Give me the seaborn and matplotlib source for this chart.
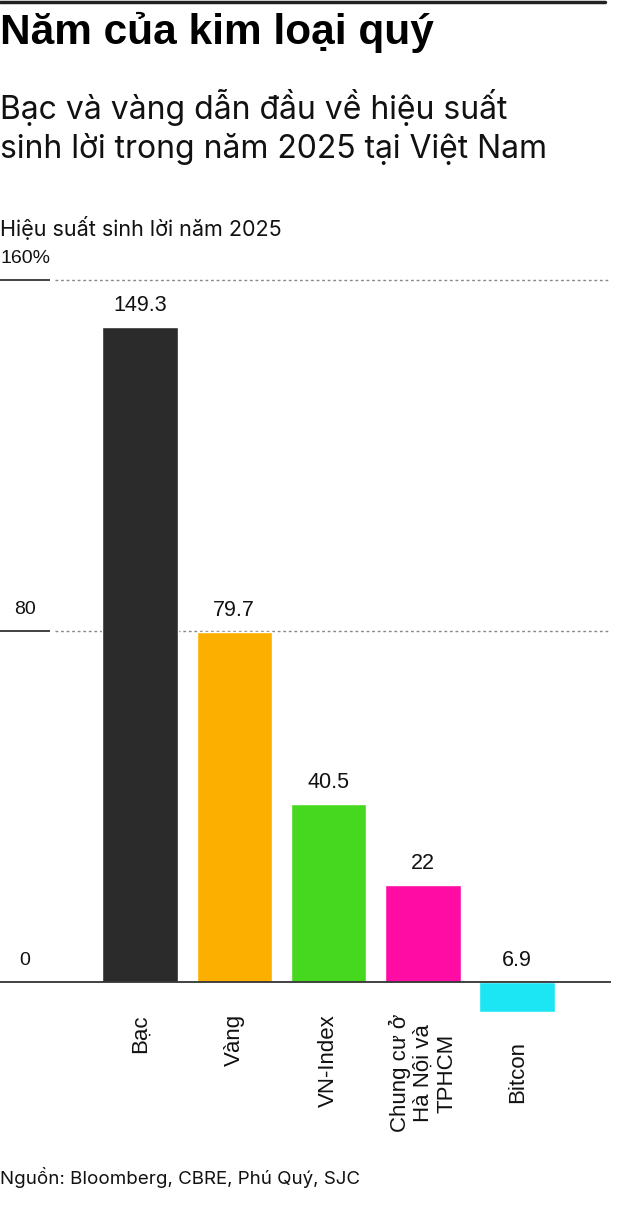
import matplotlib
matplotlib.use("Agg")
import matplotlib.pyplot as plt
import seaborn as sns
import pandas as pd

categories = ["Bạc", "Vàng", "VN-Index", "Chung cư ở\nHà Nội và\nTPHCM", "Bitcon"]
values = [149.3, 79.7, 40.5, 22.0, -6.9]
value_labels = ["149.3", "79.7", "40.5", "22", "6.9"]
colors = ["#2b2b2b", "#FDAF00", "#46D81E", "#FF0CA5", "#1CE6F3"]
yticks = [0, 80, 160]
ytick_labels = ["0", "80", "160%"]

title = "Năm của kim loại quý"
subtitle = "Bạc và vàng dẫn đầu về hiệu suất\nsinh lời trong năm 2025 tại Việt Nam"
axis_title = "Hiệu suất sinh lời năm 2025"
source = "Nguồn: Bloomberg, CBRE, Phú Quý, SJC"

sns.set_theme(style="white")
plt.rcParams["font.family"] = ["Liberation Sans", "DejaVu Sans"]
TXT = ["Inter", "DejaVu Sans"]

W, H = 617, 1207
fig = plt.figure(figsize=(W / 100, H / 100), dpi=100)

ymin, ymax = -10, 165
ppu = 4.3875
top_px = 982 - ymax * ppu
bot_px = 982 - ymin * ppu
ax = fig.add_axes([0, 1 - bot_px / H, 611 / W, (bot_px - top_px) / H])

df = pd.DataFrame({"cat": categories, "val": values})
sns.barplot(data=df, x="cat", y="val", hue="cat", palette=colors, width=0.8,
            legend=False, ax=ax, saturation=1)

sp = 94.3
ax.set_xlim(-140 / sp, (611 - 140) / sp)
ax.set_ylim(ymin, ymax)
for s in ax.spines.values():
    s.set_visible(False)
ax.set_xticks([])
ax.set_yticks([])
ax.set_xlabel("")
ax.set_ylabel("")

x_left = -140 / sp
x_tick_end = (50 - 140) / sp
x_grid_start = (55 - 140) / sp
x_right = (611 - 140) / sp
x_lab = (25 - 140) / sp

for v, lab in zip(yticks, ytick_labels):
    if v == 0:
        ax.hlines(0, x_left, x_right, color="#333333", lw=1.3, zorder=5)
    else:
        ax.hlines(v, x_left, x_tick_end, color="#222222", lw=1.2, zorder=3)
        ax.hlines(v, x_grid_start, x_right, color="#888888", lw=1.0,
                  linestyles=(0, (2, 2)), zorder=0)
    ax.text(x_lab, v + 3.0, lab, ha="center", va="bottom", fontsize=14,
            color="#111111")

for i, (v, lab) in enumerate(zip(values, value_labels)):
    y = max(v, 0) + 2.6
    ax.text(i, y, lab, ha="center", va="bottom", fontsize=15.5, color="#111111")
    ly = -7.3 if v >= 0 else v - 6.6
    ax.text(i, ly, categories[i], rotation=90, ha="center", va="top",
            multialignment="center", fontsize=16, color="#111111",
            linespacing=1.15)

fig.add_artist(plt.Line2D([0, 605 / W], [1 - 1.5 / H, 1 - 1.5 / H],
                          color="#222222", lw=2.5, transform=fig.transFigure))
fig.text(0, 1 - 32 / H, title, fontsize=30.5, fontweight="bold", va="center",
         ha="left", color="#000000")
fig.text(0, 1 - 127 / H, subtitle, fontsize=23, va="center", ha="left",
         color="#111111", linespacing=1.3, family=TXT)
fig.text(0, 1 - 228 / H, axis_title, fontsize=15.5, va="center", ha="left",
         color="#111111", family=TXT)
fig.text(0, 1 - 1177 / H, source, fontsize=13.5, va="center", ha="left",
         color="#111111", family=TXT)

fig.savefig("out.png", dpi=100, facecolor="white")
